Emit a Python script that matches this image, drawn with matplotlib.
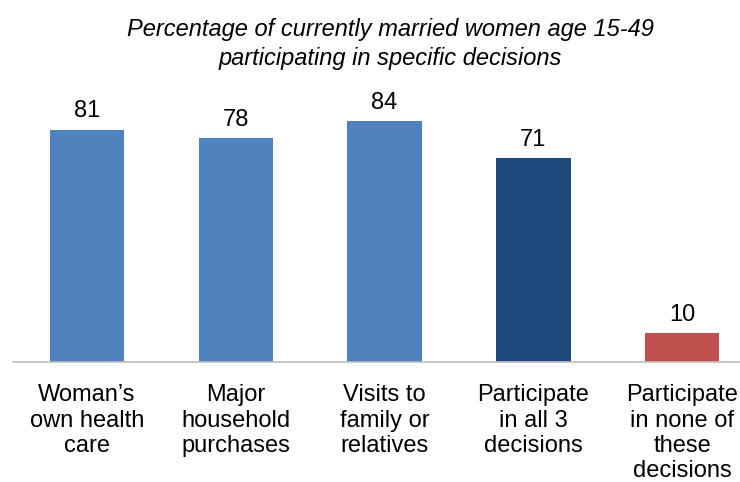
import matplotlib.pyplot as plt

categories = [
    "Woman\u2019s\nown health\ncare",
    "Major\nhousehold\npurchases",
    "Visits to\nfamily or\nrelatives",
    "Participate\nin all 3\ndecisions",
    "Participate\nin none of\nthese\ndecisions",
]
values = [81, 78, 84, 71, 10]
colors = ["#4F81BD", "#4F81BD", "#4F81BD", "#1F497D", "#C0504D"]

plt.rcParams["font.family"] = ["Liberation Sans", "DejaVu Sans"]

fig = plt.figure(figsize=(7.4, 4.82), dpi=100)
ax = fig.add_axes([12.5 / 740, 120 / 482, 744 / 740, 258 / 482])

x = list(range(len(values)))
bars = ax.bar(x, values, width=0.5, color=colors)
for xi, v in zip(x, values):
    ax.text(xi, v + 2.6, str(v), ha="center", va="bottom", fontsize=17)

ax.set_xlim(-0.5, 4.5)
ax.set_ylim(0, 90)
ax.set_yticks([])
ax.set_xticks(x)
ax.set_xticklabels(categories, fontsize=17, linespacing=1.2)
ax.tick_params(axis="x", length=0, pad=16)
for side in ["top", "right", "left"]:
    ax.spines[side].set_visible(False)
ax.spines["bottom"].set_color("#BFBFBF")
ax.spines["bottom"].set_linewidth(1.2)

fig.text(390 / 740, 1 - 44 / 482,
         "Percentage of currently married women age 15-49\nparticipating in specific decisions",
         ha="center", va="center", fontsize=17, style="italic", linespacing=1.3)

fig.savefig("out.png", dpi=100)
